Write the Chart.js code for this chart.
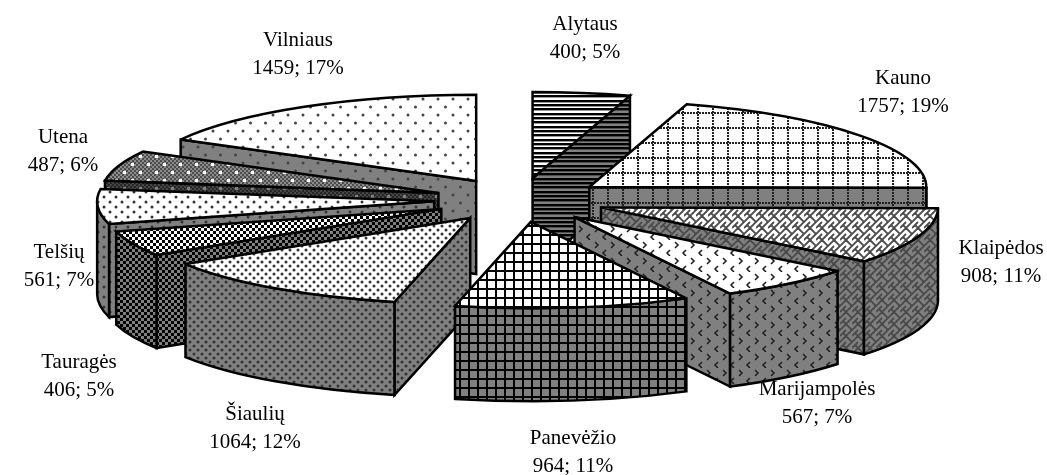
<!DOCTYPE html>
<html>
<head>
<meta charset="utf-8">
<style>
  html, body { margin: 0; padding: 0; background: #fff; }
  #wrap { position: relative; width: 1047px; height: 475px; }
</style>
<script src="https://cdn.jsdelivr.net/npm/chart.js@4"></script>
</head>
<body>
<div id="wrap"><canvas id="myChart" width="1047" height="475"></canvas></div>
<script>
// --- Data ---
const categories = ['Alytaus', 'Kauno', 'Klaipėdos', 'Marijampolės', 'Panevėžio',
                    'Šiaulių', 'Tauragės', 'Telšių', 'Utena', 'Vilniaus'];
const seriesValues = [400, 1757, 908, 567, 964, 1064, 406, 561, 487, 1459];
const printedPercents = [5, 19, 11, 7, 11, 12, 5, 7, 6, 17];

// centre of each two line label
const labelX = [585, 903, 1001, 817, 573, 255, 79, 59, 63, 298];
const labelY = [24, 78, 248, 389, 438, 414, 362, 252, 137, 40];

// --- Look of the 3D pie ---
const TILT = 0.256;     // vertical squash of the pie plane
const DEPTH = 93;       // height of the walls
const EXPLODE = 86;     // how far each slice is pulled out
const WALL_GRAY = '#808080';

function makePattern(w, h, base, paint) {
    const tile = document.createElement('canvas');
    tile.width = w;
    tile.height = h;
    const t = tile.getContext('2d');
    t.fillStyle = base;
    t.fillRect(0, 0, w, h);
    paint(t, base);
    return document.createElement('canvas').getContext('2d').createPattern(tile, 'repeat');
}

function dot(t, x, y, size, color) {
    t.fillStyle = color || '#000';
    t.fillRect(x, y, size, size);
}

function softDot(t, x, y, r, color) {
    t.fillStyle = color;
    t.beginPath();
    t.arc(x, y, r, 0, Math.PI * 2);
    t.fill();
}

function chevron(t, x, y, dir) {
    t.beginPath();
    t.moveTo(x, y);
    t.lineTo(x + 3 * dir, y + 3);
    t.lineTo(x, y + 6);
    t.stroke();
}

// One painter per slice, used with a white base on top and a gray base on the walls
const painters = [
    { w: 4, h: 13, paint: t => {
        [0, 4, 9].forEach(y => {
            t.fillStyle = '#000';
            t.fillRect(0, y, 4, 2);
            t.fillStyle = 'rgba(0,0,0,0.4)';
            t.fillRect(0, y + 2, 4, 1);
        });
    } },
    { w: 15, h: 15, paint: t => {
        for (let i = 0; i < 15; i += 3) {
            dot(t, i, 7, 2, '#222');
            dot(t, 7, i, 2, '#222');
        }
    } },
    { w: 12, h: 12, paint: t => {
        t.strokeStyle = '#4a4a4a';
        t.lineWidth = 1.8;
        t.beginPath();
        for (let y = -12; y < 24; y += 12) {
            t.moveTo(-2, y + 8); t.lineTo(6, y); t.lineTo(14, y + 8);
            t.moveTo(3, y + 9); t.lineTo(9, y + 15);
            t.moveTo(6, y + 6); t.lineTo(0, y + 12);
            t.moveTo(12, y + 6); t.lineTo(6, y + 12);
        }
        t.stroke();
    } },
    { w: 16, h: 16, paint: t => {
        t.strokeStyle = '#222';
        t.lineWidth = 1.6;
        chevron(t, 3, 2, 1);
        chevron(t, 14, 10, -1);
    } },
    { w: 9, h: 9, paint: t => { t.fillStyle = '#000'; t.fillRect(0, 0, 9, 2); t.fillRect(0, 0, 2, 9); } },
    { w: 8, h: 8, paint: t => { softDot(t, 2, 2, 1.5, '#333'); softDot(t, 6, 6, 1.5, '#333'); } },
    { w: 6, h: 6, paint: t => { t.fillStyle = '#000'; t.fillRect(0, 0, 3, 3); t.fillRect(3, 3, 3, 3); } },
    { w: 12, h: 10, paint: t => { softDot(t, 2, 2, 1.5, '#333'); softDot(t, 8, 7, 1.5, '#333'); } },
    { w: 16, h: 16, paint: (t, base) => {
        t.fillStyle = 'rgba(0,0,0,0.45)';
        t.fillRect(0, 0, 16, 16);
        for (let x = 0; x < 16; x += 2) {
            for (let y = 0; y < 16; y += 2) {
                if ((x + y) % 4 === 0) dot(t, x, y, 2, 'rgba(0,0,0,0.45)');
            }
        }
        dot(t, 3, 3, 3, base);
        dot(t, 11, 11, 3, base);
    } },
    { w: 15, h: 16, paint: t => { softDot(t, 3, 3, 1.5, '#444'); softDot(t, 10.5, 11, 1.5, '#444'); } }
];

const topPatterns = painters.map(p => makePattern(p.w, p.h, '#fff', p.paint));
const wallPatterns = painters.map(p => makePattern(p.w, p.h, WALL_GRAY, p.paint));

// Draws the pie from the arc elements Chart.js laid out, squashed and extruded
const pie3d = {
    id: 'pie3d',
    beforeDatasetDraw(chart) {
        const ctx = chart.ctx;
        const arcs = chart.getDatasetMeta(0).data;
        const slices = arcs.map((arc, i) => {
            const mid = (arc.startAngle + arc.endAngle) / 2;
            const explode = arc.options.offset;
            return {
                i, arc,
                cx: arc.x + Math.cos(mid) * explode,
                cy: arc.y + Math.sin(mid) * explode * TILT
            };
        });
        // back slices first
        slices.sort((a, b) => a.cy - b.cy);

        ctx.save();
        ctx.lineJoin = 'miter';
        ctx.miterLimit = 3;
        ctx.strokeStyle = '#000';
        ctx.lineWidth = 2.5;
        slices.forEach(s => {
            const { arc, cx, cy, i } = s;
            const rx = arc.outerRadius;
            const ry = arc.outerRadius * TILT;
            const px = a => cx + Math.cos(a) * rx;
            const py = a => cy + Math.sin(a) * ry;
            const a0 = arc.startAngle;
            const a1 = arc.endAngle;

            const wall = path => {
                ctx.beginPath();
                path();
                ctx.closePath();
                ctx.fillStyle = wallPatterns[i];
                ctx.fill();
                ctx.stroke();
            };
            // radial walls facing the viewer
            if (Math.cos(a0) < 0) {
                wall(() => {
                    ctx.moveTo(cx, cy); ctx.lineTo(px(a0), py(a0));
                    ctx.lineTo(px(a0), py(a0) + DEPTH); ctx.lineTo(cx, cy + DEPTH);
                });
            }
            if (Math.cos(a1) > 0) {
                wall(() => {
                    ctx.moveTo(cx, cy); ctx.lineTo(px(a1), py(a1));
                    ctx.lineTo(px(a1), py(a1) + DEPTH); ctx.lineTo(cx, cy + DEPTH);
                });
            }
            // outer wall, only the part on the front half of the rim
            const from = Math.max(a0, 0);
            const to = Math.min(a1, Math.PI);
            if (to > from) {
                wall(() => {
                    ctx.ellipse(cx, cy, rx, ry, 0, from, to);
                    ctx.ellipse(cx, cy + DEPTH, rx, ry, 0, to, from, true);
                });
            }
            // top face
            ctx.beginPath();
            ctx.moveTo(cx, cy);
            ctx.ellipse(cx, cy, rx, ry, 0, a0, a1);
            ctx.closePath();
            ctx.fillStyle = arc.options.backgroundColor;
            ctx.fill();
            ctx.stroke();
        });
        ctx.restore();
        return false; // the flat arcs are replaced by the drawing above
    },
    afterDraw(chart) {
        const ctx = chart.ctx;
        ctx.save();
        ctx.font = '21px "Liberation Serif"';
        ctx.fillStyle = '#000';
        ctx.textAlign = 'center';
        ctx.textBaseline = 'middle';
        categories.forEach((name, i) => {
            ctx.fillText(name, labelX[i], labelY[i]);
            ctx.fillText(seriesValues[i] + '; ' + printedPercents[i] + '%', labelX[i], labelY[i] + 28.5);
        });
        ctx.restore();
    }
};

const chartConfig = {
    type: 'pie',
    data: {
        labels: categories,
        datasets: [{
            data: seriesValues,
            backgroundColor: topPatterns,
            borderWidth: 0,
            offset: EXPLODE
        }]
    },
    options: {
        responsive: false,
        animation: false,
        events: [],
        radius: 337,
        layout: { padding: { right: 7, bottom: 75 } }, // puts the pie centre at 520, 200
        plugins: {
            legend: { display: false },
            tooltip: { enabled: false }
        }
    },
    plugins: [pie3d]
};

const myChart = new Chart(document.getElementById('myChart').getContext('2d'), chartConfig);
</script>
</body>
</html>
